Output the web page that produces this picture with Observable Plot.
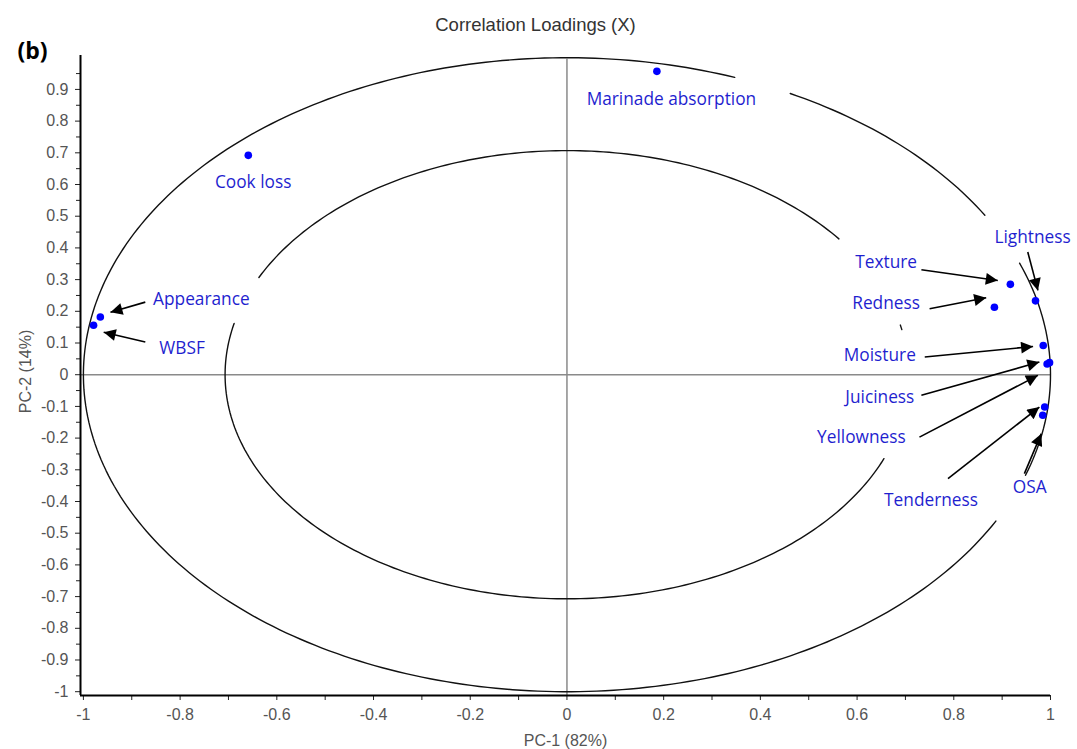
<!DOCTYPE html>
<html><head><meta charset="utf-8">
<script src="https://cdn.jsdelivr.net/npm/d3@7"></script>
<script src="https://cdn.jsdelivr.net/npm/@observablehq/plot@0.6"></script>
<style>body{margin:0;background:#fff} #chart svg{display:block}</style>
</head><body><div id="chart"></div>
<script>
// Variables (correlation loadings)
const names = ["Marinade absorption","Cook loss","Appearance","WBSF","Texture","Redness","Lightness","Moisture","Juiciness","Yellowness","Tenderness","OSA"];
const pc1 = [0.186,-0.659,-0.965,-0.979,0.917,0.884,0.969,0.985,0.993,0.998,0.988,0.984];
const pc2 = [0.957,0.692,0.182,0.156,0.285,0.213,0.233,0.092,0.034,0.038,-0.102,-0.128];
// Label anchor positions (data units)
const labelX = [0.216,-0.649,-0.756,-0.796,0.660,0.660,0.963,0.647,0.647,0.609,0.753,0.957];
const labelY = [0.868,0.607,0.237,0.082,0.355,0.224,0.434,0.061,-0.071,-0.199,-0.397,-0.355];
// Arrows from label to point (data units)
const arrowNames = ["Appearance","WBSF","Texture","Redness","Lightness","Moisture","Juiciness","Yellowness","Tenderness","OSA"];
const arrowX1 = [-0.872,-0.872,0.733,0.750,0.953,0.740,0.733,0.729,0.788,0.946];
const arrowY1 = [0.229,0.103,0.331,0.208,0.387,0.056,-0.065,-0.197,-0.328,-0.312];
const arrowX2 = [-0.944,-0.958,0.891,0.867,0.974,0.964,0.977,0.974,0.977,0.981];
const arrowY2 = [0.197,0.134,0.297,0.243,0.266,0.089,0.040,-0.002,-0.102,-0.186];
// Reference ellipses: radius and visible arc segments (degrees, counter-clockwise)
const outerRadius = 1.0;
const outerArcs = [[69.7, 332.5],[341.5, 380.6],[390.2, 422.5]];
const innerRadius = 0.707;
const innerArcs = [[166.8, 338],[11.6, 12.8],[37.3, 154.3]];
// Ticks
const xMajor = [-1,-0.8,-0.6,-0.4,-0.2,0,0.2,0.4,0.6,0.8,1];
const xMinor = [-0.9,-0.7,-0.5,-0.3,-0.1,0.1,0.3,0.5,0.7,0.9];
const yMajor = [0.9,0.8,0.7,0.6,0.5,0.4,0.3,0.2,0.1,0,-0.1,-0.2,-0.3,-0.4,-0.5,-0.6,-0.7,-0.8,-0.9,-1];
const yMinor = [0.95,0.85,0.75,0.65,0.55,0.45,0.35,0.25,0.15,0.05,-0.05,-0.15,-0.25,-0.35,-0.45,-0.55,-0.65,-0.75,-0.85,-0.95];

const title = "Correlation Loadings (X)";
const panel = "(b)";
const xLabel = "PC-1 (82%)";
const yLabel = "PC-2 (14%)";

const xDom = [-1.006, 1];
const yDom = [-1.012, 1.007];

const points = names.map((n,i)=>({name:n, x:pc1[i], y:pc2[i], lx:labelX[i], ly:labelY[i]}));
const arrows = arrowNames.map((n,i)=>({name:n, x1:arrowX1[i], y1:arrowY1[i], x2:arrowX2[i], y2:arrowY2[i]}));

function arcPoints(r, arcs, tag){
  const out = [];
  arcs.forEach((a,k)=>{
    const [a0,a1] = a;
    const n = Math.max(2, Math.ceil(Math.abs(a1-a0)));
    for(let j=0;j<=n;j++){
      const t = (a0 + (a1-a0)*j/n)*Math.PI/180;
      out.push({seg: tag+k, x: r*Math.cos(t), y: r*Math.sin(t)});
    }
  });
  return out;
}
const ellipse = arcPoints(outerRadius, outerArcs, "o").concat(arcPoints(innerRadius, innerArcs, "i"));

const tickFont = "Liberation Sans, Arial, sans-serif";
const lblFont = "Open Sans, sans-serif";

const plot = Plot.plot({
  width:1077, height:749,
  marginLeft:80, marginRight:27, marginTop:55, marginBottom:54,
  style:{fontFamily:tickFont, background:"#fff", overflow:"visible"},
  x:{domain:xDom},
  y:{domain:yDom},
  marks:[
    Plot.ruleX([0], {y1:yDom[0], y2:0.995, stroke:"#8a8a8a", strokeWidth:1.5}),
    Plot.ruleY([0], {x1:xDom[0], x2:xDom[1], stroke:"#8a8a8a", strokeWidth:1.5}),
    Plot.line(ellipse, {x:"x", y:"y", z:"seg", stroke:"#111", strokeWidth:1.4}),
    Plot.axisY({ticks:yMinor, tickFormat:()=>"", tickSize:4, stroke:"#222", label:null}),
    Plot.axisY({ticks:yMajor, tickFormat:d=>String(d), tickSize:5, tickPadding:7, fontSize:16, fill:"#555", stroke:"#222", label:null}),
    Plot.axisX({ticks:xMinor, tickFormat:()=>"", tickSize:5, stroke:"#222", label:null}),
    Plot.axisX({ticks:xMajor, tickFormat:d=>String(d), tickSize:5, tickPadding:8, fontSize:16, fill:"#555", stroke:"#222", label:null}),
    Plot.ruleX([xDom[0]], {y1:yDom[0], y2:yDom[1], stroke:"#000", strokeWidth:2}),
    Plot.ruleY([yDom[0]], {x1:xDom[0], x2:xDom[1], stroke:"#000", strokeWidth:2}),
    Plot.link(arrows, {x1:"x1", y1:"y1", x2:"x2", y2:"y2", stroke:"#000", strokeWidth:1.6}),
    Plot.dot(points, {x:"x", y:"y", r:3.8, fill:"#0000ff", stroke:null}),
    Plot.text(points, {x:"lx", y:"ly", text:"name", fill:"#1f1fcf", fontSize:17.3, fontFamily:lblFont}),
    Plot.text([title], {frameAnchor:"top-left", dx:455, dy:-30, lineAnchor:"middle", textAnchor:"middle", fontSize:18.5, fill:"#333", fontFamily:tickFont}),
    Plot.text([panel], {frameAnchor:"top-left", dx:-63, dy:-4, lineAnchor:"middle", textAnchor:"start", fontSize:23, fontWeight:"bold", fill:"#000", fontFamily:lblFont}),
    Plot.text([xLabel], {frameAnchor:"bottom", dy:45, lineAnchor:"middle", fontSize:16, fill:"#555", fontFamily:tickFont}),
    Plot.text([yLabel], {frameAnchor:"left", dx:-55, dy:-4, rotate:-90, textAnchor:"middle", lineAnchor:"middle", fontSize:16, fill:"#555", fontFamily:tickFont})
  ]
});

// filled triangular arrowheads for the annotation arrows
const svgNS = "http://www.w3.org/2000/svg";
const defs = document.createElementNS(svgNS, "defs");
const marker = document.createElementNS(svgNS, "marker");
marker.setAttribute("id","ahead");
marker.setAttribute("viewBox","0 0 10 10");
marker.setAttribute("refX","10");
marker.setAttribute("refY","5");
marker.setAttribute("markerWidth","15");
marker.setAttribute("markerHeight","12");
marker.setAttribute("markerUnits","userSpaceOnUse");
marker.setAttribute("orient","auto");
const mp = document.createElementNS(svgNS, "path");
mp.setAttribute("d","M0,0L10,5L0,10Z");
mp.setAttribute("fill","#000");
marker.appendChild(mp);
defs.appendChild(marker);
plot.insertBefore(defs, plot.firstChild);
plot.querySelectorAll('g[aria-label="link"] path, g[aria-label="link"] line').forEach(p=>p.setAttribute("marker-end","url(#ahead)"));

document.getElementById("chart").appendChild(plot);
</script>
</body></html>
